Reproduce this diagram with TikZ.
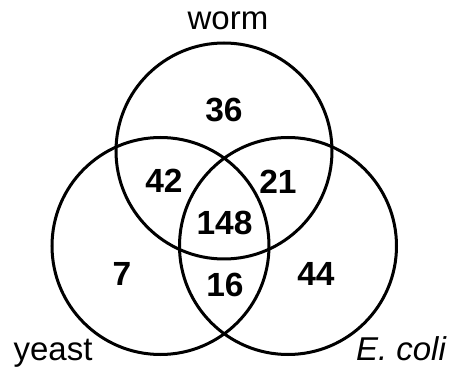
\documentclass[tikz,border=0pt]{standalone}
\usepackage{fontspec}
\setmainfont{Liberation Sans}
\begin{document}
\begin{tikzpicture}[x=1pt,y=-1pt,
  ring/.style={draw=black,line width=3pt},
  num/.style={inner sep=0pt,anchor=center,font=\fontsize{33.5}{33.5}\selectfont\bfseries},
  lbl/.style={inner sep=0pt,anchor=base,font=\fontsize{33}{33}\selectfont}]
\useasboundingbox (0,0) rectangle (451,369);
\draw[ring] (224,151) circle (108);
\draw[ring] (160.5,246) circle (108.5);
\draw[ring] (288,246) circle (108.5);
\node[num] (n36) at (224,110) {36};
\node[num] (n42) at (164,181) {42};
\node[num] (n21) at (278,182) {21};
\node[num] (n148) at (224.5,223) {148};
\node[num] (n7) at (122,274) {7};
\node[num] (n16) at (225,285) {16};
\node[num] (n44) at (316,274) {44};
\node[lbl] (worm) at (228,30) {worm};
\node[lbl] (yeast) at (53,361) {yeast};
\node[lbl] (ecoli) at (401,361) {\itshape E. coli};
\end{tikzpicture}
\end{document}
